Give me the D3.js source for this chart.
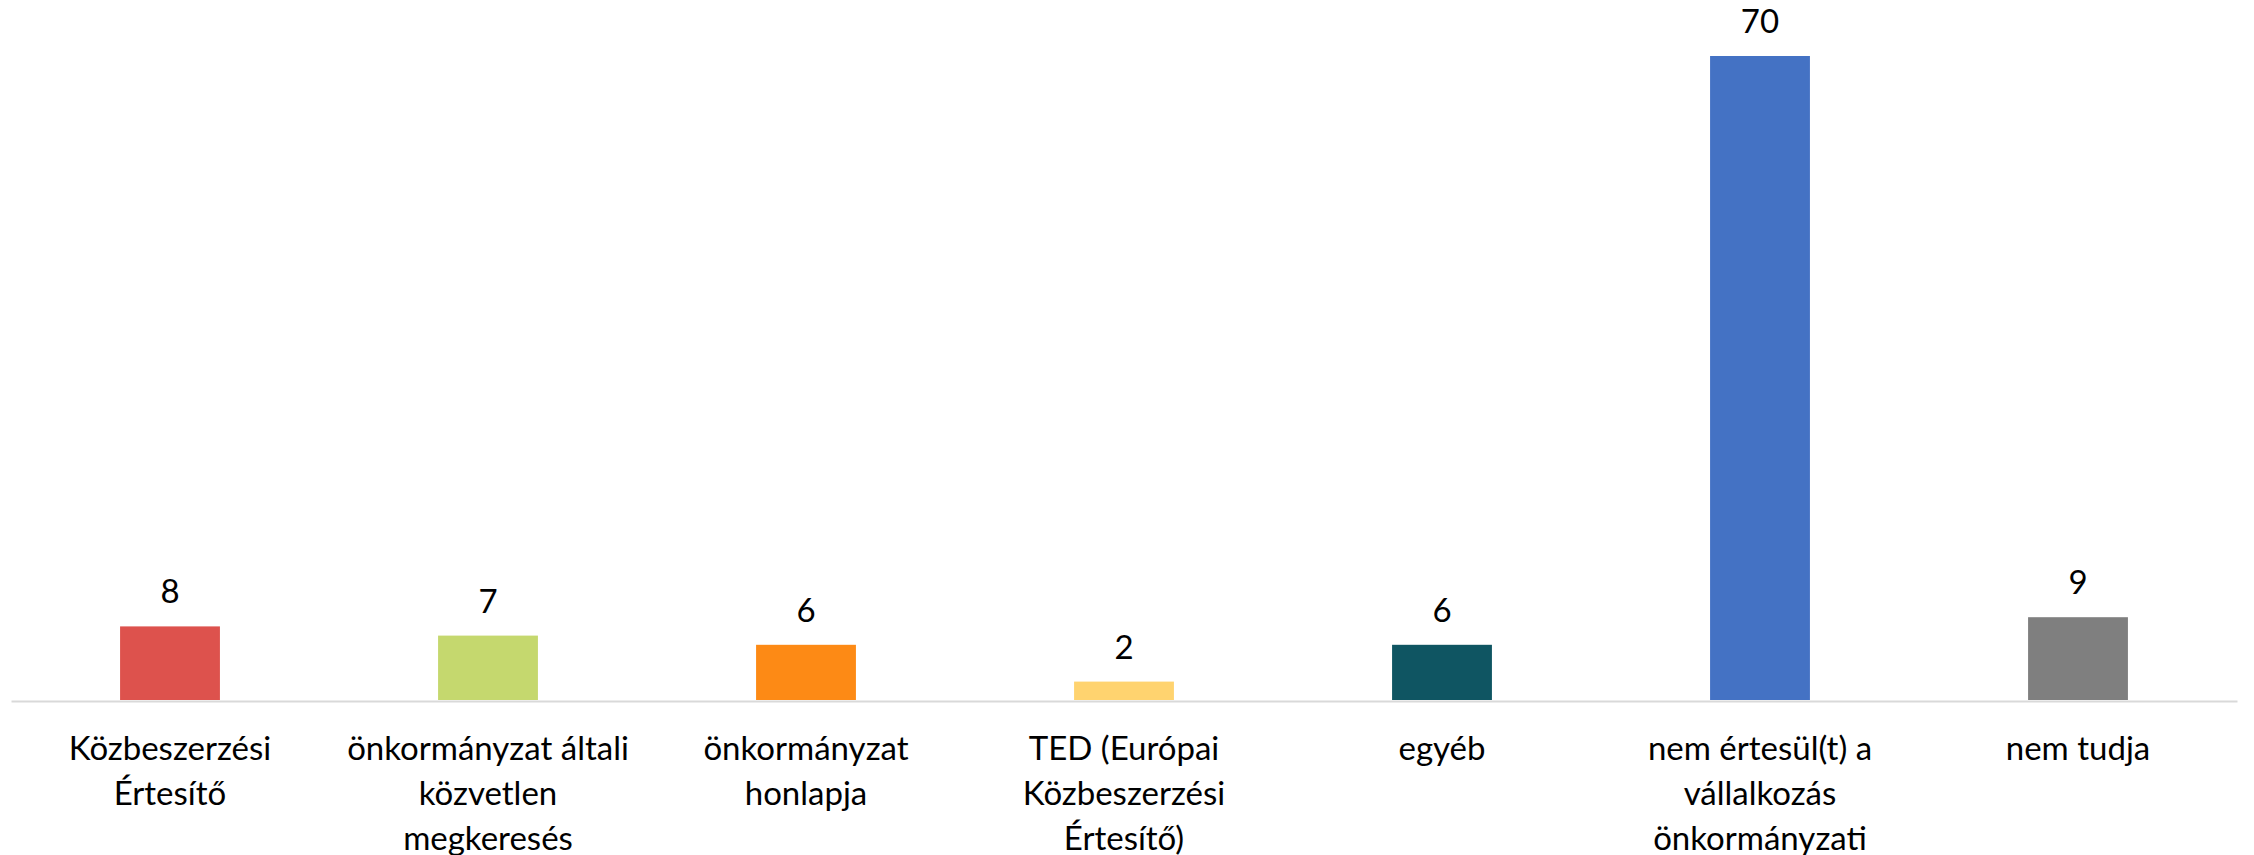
<!DOCTYPE html>
<html>
<head>
<meta charset="utf-8">
<script src="https://cdn.jsdelivr.net/npm/d3@7"></script>
<style>
html, body { margin: 0; padding: 0; background: #ffffff; }
svg { display: block; }
</style>
</head>
<body>
<svg id="chart" width="2254" height="855"></svg>
<script>
const categories = [
  "Közbeszerzési Értesítő",
  "önkormányzat általi közvetlen megkeresés",
  "önkormányzat honlapja",
  "TED (Európai Közbeszerzési Értesítő)",
  "egyéb",
  "nem értesül(t) a vállalkozás önkormányzati",
  "nem tudja"
];
const categoryLines = [
  ["Közbeszerzési", "Értesítő"],
  ["önkormányzat általi", "közvetlen", "megkeresés"],
  ["önkormányzat", "honlapja"],
  ["TED (Európai", "Közbeszerzési", "Értesítő)"],
  ["egyéb"],
  ["nem értesül(t) a", "vállalkozás", "önkormányzati"],
  ["nem tudja"]
];
const values = [8, 7, 6, 2, 6, 70, 9];
const colors = ["#dd524d", "#c5d86e", "#fd8a15", "#ffd36f", "#0f5562", "#4472c4", "#7f7f7f"];

const svg = d3.select("#chart");
const font = "Lato, 'Open Sans', 'Noto Sans', sans-serif";

const x = d3.scaleBand().domain(categories).range([11, 2237]).paddingInner(0.686).paddingOuter(0.343);
const y = d3.scaleLinear().domain([0, 70]).range([700, 56]);

svg.append("g").selectAll("rect").data(values).join("rect")
  .attr("x", (d, i) => x(categories[i]))
  .attr("width", x.bandwidth())
  .attr("y", d => y(d))
  .attr("height", d => y(0) - y(d))
  .attr("fill", (d, i) => colors[i]);

// axis line
const axis = d3.axisBottom(x).tickSize(0).tickFormat("");
const axG = svg.append("g").attr("transform", "translate(0,701)").call(axis);
axG.select(".domain").attr("stroke", "#d9d9d9").attr("stroke-width", 2);

// value labels
svg.append("g").selectAll("text").data(values).join("text")
  .attr("x", (d, i) => x(categories[i]) + x.bandwidth() / 2)
  .attr("y", d => y(d) - 23)
  .attr("text-anchor", "middle")
  .attr("font-family", font)
  .attr("font-size", 33)
  .attr("fill", "#000")
  .text(d => d);

// category labels
const lab = svg.append("g").selectAll("text").data(categories).join("text")
  .attr("x", d => x(d) + x.bandwidth() / 2)
  .attr("y", 760)
  .attr("text-anchor", "middle")
  .attr("font-family", font)
  .attr("font-size", 33)
  .attr("fill", "#000");
lab.selectAll("tspan").data((d, i) => categoryLines[i]).join("tspan")
  .attr("x", function() { return d3.select(this.parentNode).attr("x"); })
  .attr("dy", (d, j) => j === 0 ? 0 : 45)
  .text(d => d);
</script>
</body>
</html>
